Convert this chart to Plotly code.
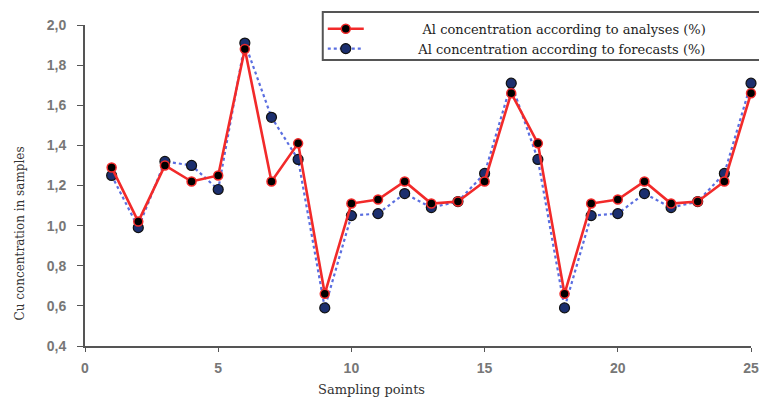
import plotly.graph_objects as go

# Sampling points and Al concentrations (%)
points = list(range(1, 26))
analyses = [1.29, 1.02, 1.30, 1.22, 1.25, 1.88, 1.22, 1.41, 0.66, 1.11,
            1.13, 1.22, 1.11, 1.12, 1.22, 1.66, 1.41, 0.66, 1.11, 1.13,
            1.22, 1.11, 1.12, 1.22, 1.66]
forecasts = [1.25, 0.99, 1.32, 1.30, 1.18, 1.91, 1.54, 1.33, 0.59, 1.05,
             1.06, 1.16, 1.09, 1.12, 1.26, 1.71, 1.33, 0.59, 1.05, 1.06,
             1.16, 1.09, 1.12, 1.26, 1.71]
y_ticks = [0.4, 0.6, 0.8, 1.0, 1.2, 1.4, 1.6, 1.8, 2.0]
x_ticks = [0, 5, 10, 15, 20, 25]

lead = "\u00a0" * 12
fig = go.Figure()
fig.add_trace(go.Scatter(
    x=points, y=forecasts, mode="lines+markers",
    name=lead + "Al concentration according to forecasts (%)",
    line=dict(color="#5a6ee0", width=2.2, dash="dot"),
    marker=dict(size=10, color="#1c2f6e", line=dict(color="#111", width=1.2)),
    legendrank=2, cliponaxis=False,
))
fig.add_trace(go.Scatter(
    x=points, y=analyses, mode="lines+markers",
    name=lead + "\u00a0Al concentration according to analyses (%)",
    line=dict(color="#f22a2a", width=2.6),
    marker=dict(size=9, color="#000", line=dict(color="#f22a2a", width=1.5)),
    legendrank=1, cliponaxis=False,
))

tick_font = dict(family="Liberation Sans", size=14, color="#777", weight="bold")
title_font = dict(family="DejaVu Serif", size=13, color="#333")

fig.update_layout(
    width=759, height=401,
    margin=dict(l=85, r=8, t=25, b=55),
    paper_bgcolor="white", plot_bgcolor="white",
    separators=",.",
    showlegend=True,
    legend=dict(
        x=0.357, y=1.035, xanchor="left", yanchor="top",
        bgcolor="rgba(0,0,0,0)", borderwidth=0,
        font=dict(family="DejaVu Serif", size=13, color="#222"),
        itemwidth=36, tracegroupgap=0,
    ),
    # legend frame, running off the right edge of the page
    shapes=[dict(type="rect", xref="paper", yref="paper",
                 x0=0.357, x1=1.05, y0=0.891, y1=1.0405,
                 line=dict(color="#555", width=2), fillcolor="white",
                 layer="below")],
    xaxis=dict(
        range=[0, 25], tickvals=x_ticks, ticks="outside", ticklen=4,
        tickcolor="#555", showline=True, linecolor="#555", linewidth=2,
        showgrid=False, zeroline=False, tickfont=tick_font,
        ticklabelstandoff=4, ticklabeloverflow="allow", automargin=False,
    ),
    yaxis=dict(
        range=[0.4, 2.0], tickvals=y_ticks, tickformat=".1f", ticks="outside",
        ticklen=6, tickcolor="#555", showline=True, linecolor="#555",
        linewidth=2, showgrid=False, zeroline=False, tickfont=tick_font,
        ticklabelstandoff=8, automargin=False,
    ),
    annotations=[
        dict(text="Sampling points", xref="paper", yref="paper",
             x=0.43, y=-0.135, xanchor="center", yanchor="middle",
             showarrow=False, font=title_font),
        dict(text="Cu concentration in samples", xref="paper", yref="paper",
             x=-0.098, y=0.35, xanchor="center", yanchor="middle",
             textangle=-90, showarrow=False,
             font=dict(family="DejaVu Serif", size=12, color="#333")),
    ],
)

fig.write_html("out.html")
